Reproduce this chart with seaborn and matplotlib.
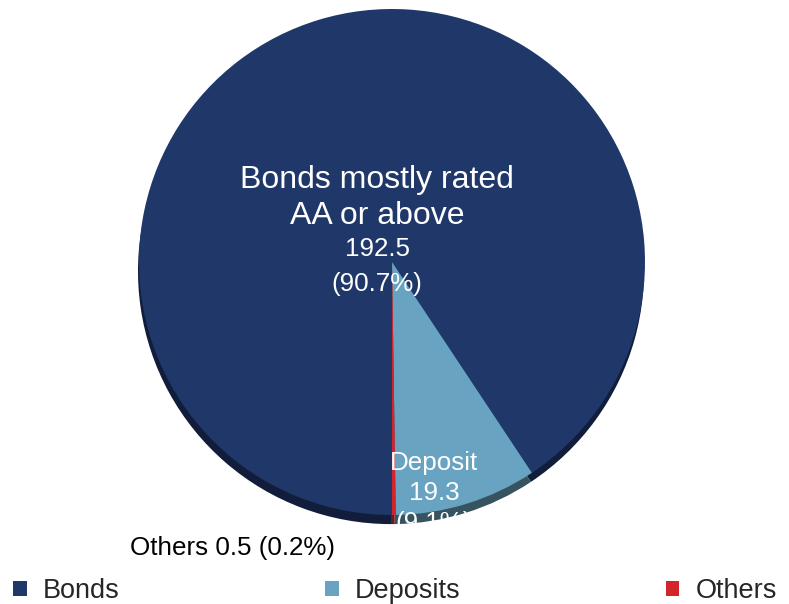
import matplotlib
matplotlib.use("Agg")
import matplotlib.pyplot as plt
from matplotlib.patches import Patch
import seaborn as sns

# Portfolio composition
categories = ["Bonds", "Deposits", "Others"]
values = [192.5, 19.3, 0.5]
shares = [90.7, 9.1, 0.2]
slice_titles = ["Bonds mostly rated\nAA or above", "Deposit", "Others"]

top_colors = ["#1f3869", "#68a4c1", "#d3232b"]
side_colors = ["#111d3b", "#36535f", "#6b1a1f"]

sns.set_theme(style="white")
plt.rcParams["font.family"] = ["Liberation Sans", "DejaVu Sans"]

W, H = 789, 604
fig = plt.figure(figsize=(W / 100, H / 100), dpi=100)

cx, cy, r = 392, 262, 253
ax = fig.add_axes([(cx - r) / W, (H - cy - r) / H, 2 * r / W, 2 * r / H])

# Thin extruded side of the disc
ax.pie(values, colors=side_colors, startangle=270, counterclock=False,
       radius=1.0, center=(-0.004, -0.036), frame=True,
       wedgeprops=dict(linewidth=0))
# Top surface
ax.pie(values, colors=top_colors, startangle=270, counterclock=False,
       radius=1.0, center=(0, 0), frame=True,
       wedgeprops=dict(linewidth=0))
ax.set_xlim(-1, 1)
ax.set_ylim(-1, 1)
ax.axis("off")

# Slice annotations
ax.text(-0.059, 0.253, slice_titles[0], color="white", fontsize=23,
        ha="center", va="center", linespacing=1.25, zorder=5)
ax.text(-0.059, 0.051, f"{values[0]}", color="white",
        fontsize=18.7, ha="center", va="center", zorder=5)
ax.text(-0.061, -0.087, f"({shares[0]}%)", color="white",
        fontsize=18.7, ha="center", va="center", zorder=5)
ax.text(0.166, -0.912, f"{slice_titles[1]}\n{values[1]}\n({shares[1]}%)",
        color="white", fontsize=18.7, ha="center", va="center",
        linespacing=1.32, zorder=5, clip_on=False)
ax.text(-0.632, -1.13, f"{slice_titles[2]} {values[2]} ({shares[2]}%)",
        color="black", fontsize=18.7, ha="center", va="center",
        zorder=5, clip_on=False)

handles = [Patch(facecolor=c, edgecolor="none") for c in top_colors]
fig.legend(handles, categories, loc="lower left",
           bbox_to_anchor=(13 / W, 0 / H, (777 - 13) / W, 30 / H),
           mode="expand", ncol=3, frameon=False, fontsize=19.5,
           handlelength=0.5, handleheight=0.5, handletextpad=0.6,
           borderaxespad=0, borderpad=0)

fig.savefig("out.png", dpi=100)
